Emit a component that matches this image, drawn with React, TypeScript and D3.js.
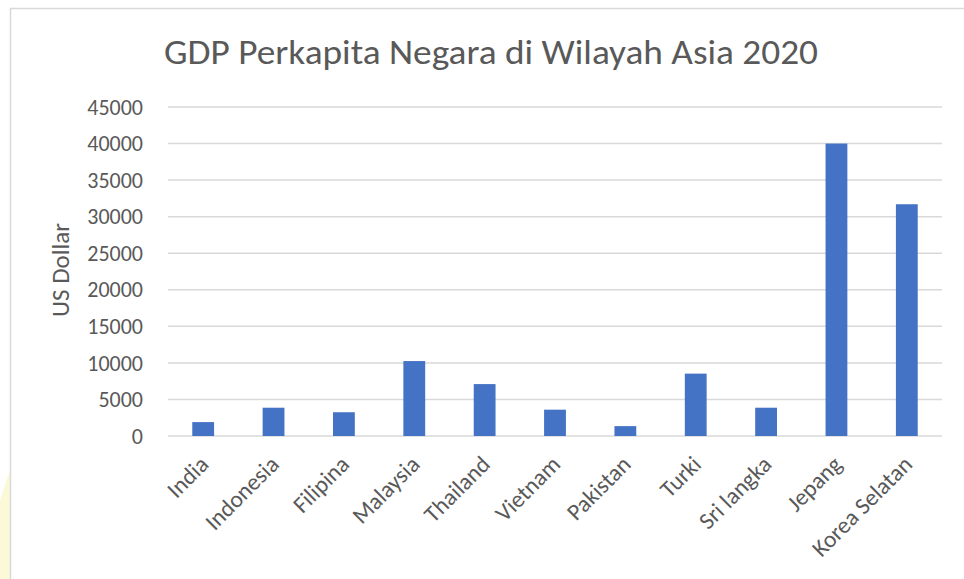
import React from "react";
import * as d3 from "d3";

const categories = ["India", "Indonesia", "Filipina", "Malaysia", "Thailand", "Vietnam", "Pakistan", "Turki", "Sri langka", "Jepang", "Korea Selatan"];
const values = [1900, 3870, 3250, 10250, 7100, 3600, 1350, 8530, 3870, 40000, 31700];
const yTicks = [0, 5000, 10000, 15000, 20000, 25000, 30000, 35000, 40000, 45000];
const title = "GDP Perkapita Negara di Wilayah Asia 2020";
const yLabel = "US Dollar";

export default function App() {
  const W = 964, H = 579;
  const left = 168, right = 942, top = 107, bottom = 436;
  const x = d3.scaleBand<string>().domain(categories).range([left, right]).paddingInner(0.69).paddingOuter(0.345);
  const y = d3.scaleLinear().domain([0, 45000]).range([bottom, top]);
  const font = "Carlito, Calibri, 'Open Sans', sans-serif";
  const grey = "#595959";
  return (
    <svg width={W} height={H} style={{ position: "absolute", left: 0, top: 0, display: "block", background: "#fff" }} fontFamily={font}>
      <rect x={0} y={0} width={W} height={H} fill="#fff" />
      <path d="M0,500 L10,470 L10,579 L0,579 Z" fill="#fbf6c8" opacity={0.7} />
      <rect x={10.5} y={8.5} width={1000} height={700} fill="#fff" stroke="#d9d9d9" strokeWidth={1.5} />
      <text x={491} y={64} textAnchor="middle" fontSize={34} fill={grey} textLength={654} lengthAdjust="spacingAndGlyphs">{title}</text>
      {yTicks.map((t) => (
        <g key={t}>
          <line x1={left} x2={right} y1={y(t)} y2={y(t)} stroke="#d9d9d9" strokeWidth={1.5} />
          <text x={143} y={y(t)} dy="0.35em" textAnchor="end" fontSize={22} fill={grey}>{t}</text>
        </g>
      ))}
      <text transform={`translate(69,270) rotate(-90)`} textAnchor="middle" fontSize={25} fill={grey}>{yLabel}</text>
      {categories.map((c, i) => (
        <rect key={c} x={x(c)} y={y(values[i])} width={x.bandwidth()} height={y(0) - y(values[i])} fill="#4472c4" />
      ))}
      {categories.map((c) => {
        const cx = (x(c) as number) + x.bandwidth() / 2;
        return (
          <text key={c} transform={`translate(${cx + 1},${460}) rotate(-45)`} textAnchor="end" dy="0.35em" fontSize={23.5} fill={grey}>{c}</text>
        );
      })}
    </svg>
  );
}
